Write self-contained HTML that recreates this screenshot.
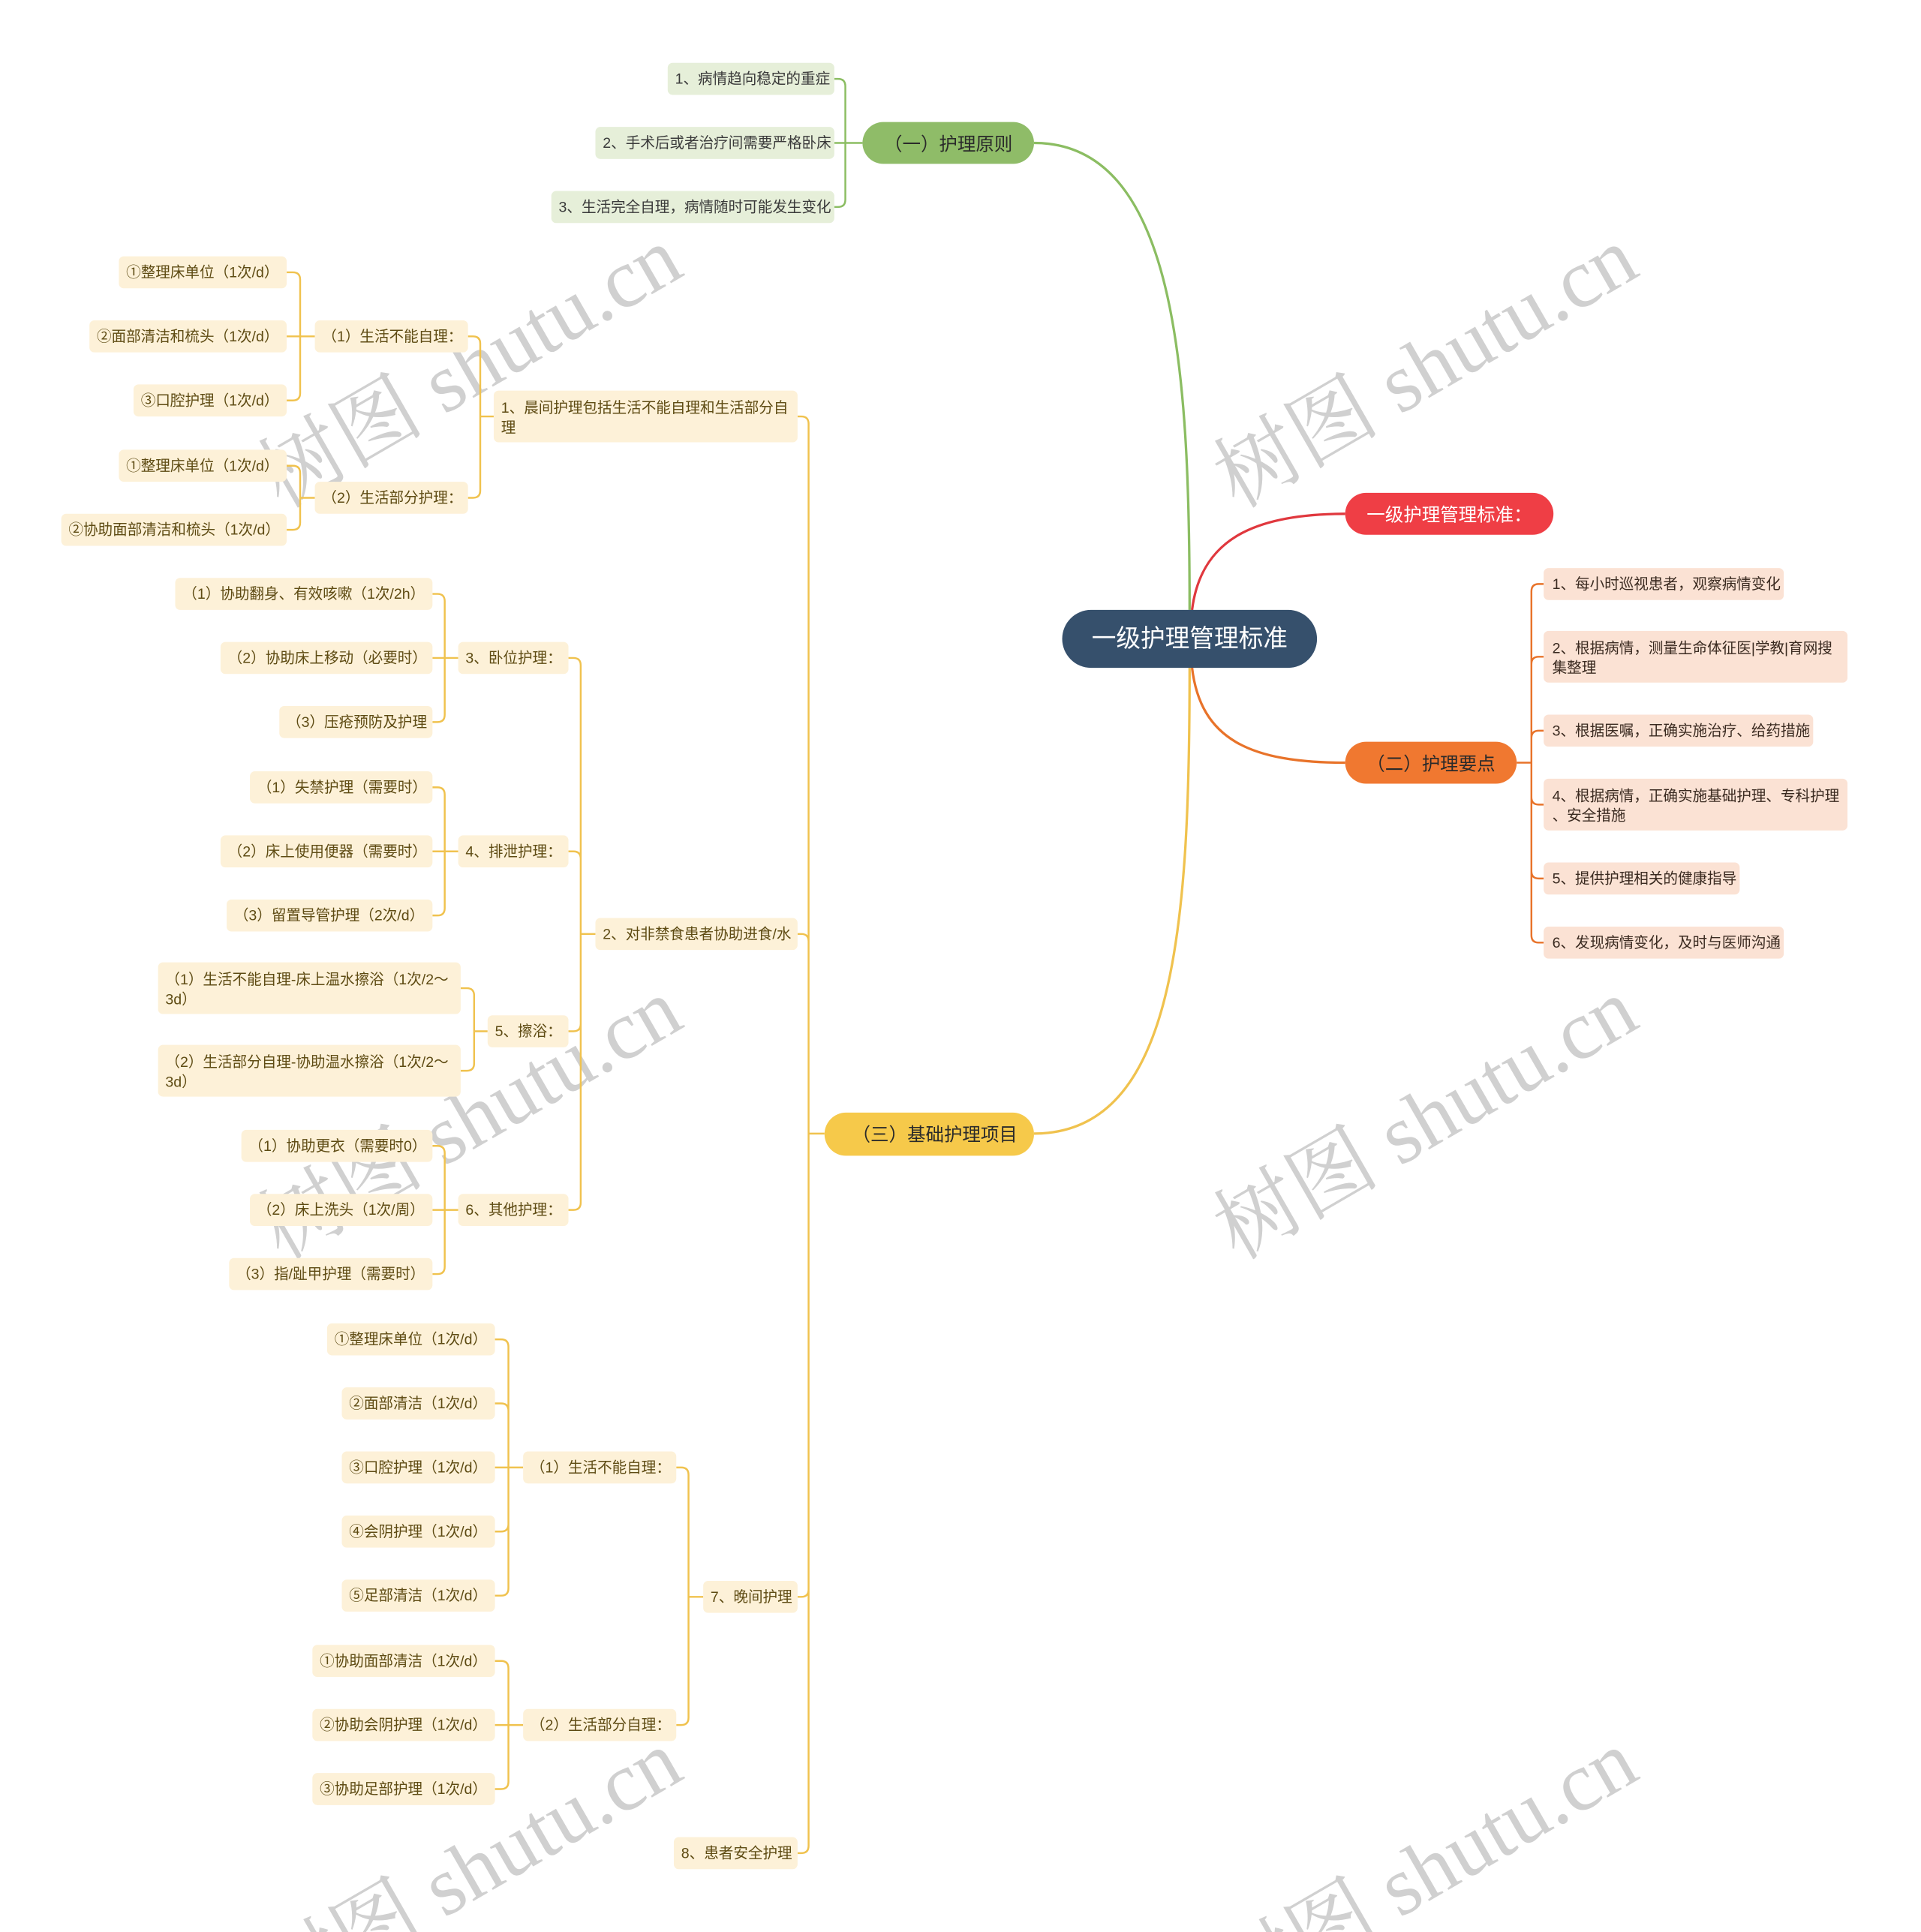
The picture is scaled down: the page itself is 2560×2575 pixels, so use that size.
<!DOCTYPE html>
<html><head><meta charset="utf-8"><style>
html,body{margin:0;padding:0;background:#fff;width:2560px;height:2575px;overflow:hidden;}
svg{display:block;overflow:hidden;}
text{font-family:"Liberation Sans","Noto Sans CJK SC",sans-serif;}
.g rect{fill:#e6efd9}
.g text{fill:#3a3a3a;font-size:12px}
.o rect{fill:#fbe2d4}
.o text{fill:#3a2a20;font-size:12px}
.y rect{fill:#fdf1d8}
.y text{fill:#5e4b13;font-size:12px}
.wm{fill:#d0d0d0;font-size:68px;font-family:"Liberation Serif","Noto Serif CJK SC",serif;}
</style></head><body>
<svg id="s" width="2560" height="2575" viewBox="0 0 1568 1568" preserveAspectRatio="none" xmlns="http://www.w3.org/2000/svg">
<g id="wms">
<text class="wm" transform="translate(395,318) rotate(-30)" text-anchor="middle">树图 shutu.cn</text>
<text class="wm" transform="translate(1175,318) rotate(-30)" text-anchor="middle">树图 shutu.cn</text>
<text class="wm" transform="translate(395,928) rotate(-30)" text-anchor="middle">树图 shutu.cn</text>
<text class="wm" transform="translate(1175,928) rotate(-30)" text-anchor="middle">树图 shutu.cn</text>
<text class="wm" transform="translate(395,1538) rotate(-30)" text-anchor="middle">树图 shutu.cn</text>
<text class="wm" transform="translate(1175,1538) rotate(-30)" text-anchor="middle">树图 shutu.cn</text>
</g>
<g id="lines" fill="none" stroke-width="1.5"></g>

<path d="M971,495 C971,300 960,116 844,116" stroke="#8bbd62" stroke-width="2" fill="none"/>
<path d="M973,495 C980,440 1020,417 1098,417" stroke="#e0383e" stroke-width="2" fill="none"/>
<path d="M973,542 C980,600 1020,619 1098,619" stroke="#e8732a" stroke-width="2" fill="none"/>
<path d="M971,542 C971,750 960,920 844,920" stroke="#f0c24e" stroke-width="2" fill="none"/>

<rect x="867" y="495" width="208" height="47" rx="23.5" fill="#36506c"/>
<text x="971" y="525" text-anchor="middle" fill="#fff" font-size="20">一级护理管理标准</text>

<rect x="704" y="99" width="140" height="34" rx="17" fill="#8fbc68"/>
<text x="774" y="122" text-anchor="middle" fill="#2a2a2a" font-size="15">（一）护理原则</text>
<g class="g">
<rect x="545" y="51" width="136" height="26" rx="4"/><text x="551" y="68">1、病情趋向稳定的重症</text>
<rect x="486" y="103" width="195" height="26" rx="4"/><text x="492" y="120">2、手术后或者治疗间需要严格卧床</text>
<rect x="450" y="155" width="231" height="26" rx="4"/><text x="456" y="172">3、生活完全自理，病情随时可能发生变化</text>
</g>

<rect x="1098" y="400" width="170" height="34" rx="17" fill="#ef3e45"/>
<text x="1183" y="423" text-anchor="middle" fill="#fff" font-size="15">一级护理管理标准：</text>

<rect x="1098" y="602" width="140" height="34" rx="17" fill="#f07830"/>
<text x="1168" y="625" text-anchor="middle" fill="#2a2a2a" font-size="15">（二）护理要点</text>
<g class="o">
<rect x="1260" y="461" width="196" height="26" rx="4"/><text x="1267" y="478">1、每小时巡视患者，观察病情变化</text>
<rect x="1260" y="512" width="248" height="42" rx="4"/><text x="1267" y="530">2、根据病情，测量生命体征医|学教|育网搜</text><text x="1267" y="546">集整理</text>
<rect x="1260" y="580" width="220" height="26" rx="4"/><text x="1267" y="597">3、根据医嘱，正确实施治疗、给药措施</text>
<rect x="1260" y="632" width="248" height="42" rx="4"/><text x="1267" y="650">4、根据病情，正确实施基础护理、专科护理</text><text x="1267" y="666">、安全措施</text>
<rect x="1260" y="700" width="160" height="26" rx="4"/><text x="1267" y="717">5、提供护理相关的健康指导</text>
<rect x="1260" y="752" width="196" height="26" rx="4"/><text x="1267" y="769">6、发现病情变化，及时与医师沟通</text>
</g>

<rect x="673" y="903" width="171" height="35" rx="17.5" fill="#f6c94a"/>
<text x="763" y="926" text-anchor="middle" fill="#2a2a2a" font-size="15">（三）基础护理项目</text>
<g class="y">
<rect x="403" y="317" width="248" height="42" rx="4"/><text x="409" y="335">1、晨间护理包括生活不能自理和生活部分自</text><text x="409" y="351">理</text>
<rect x="486" y="745" width="165" height="26" rx="4"/><text x="492" y="762">2、对非禁食患者协助进食/水</text>
<rect x="574" y="1283" width="77" height="26" rx="4"/><text x="580" y="1300">7、晚间护理</text>
<rect x="550" y="1491" width="101" height="26" rx="4"/><text x="556" y="1508">8、患者安全护理</text>

<rect x="257" y="260" width="125" height="26" rx="4"/><text x="263" y="277">（1）生活不能自理：</text>
<rect x="257" y="391" width="125" height="26" rx="4"/><text x="263" y="408">（2）生活部分护理：</text>
<rect x="97" y="208" width="137" height="26" rx="4"/><text x="103" y="225">①整理床单位（1次/d）</text>
<rect x="73" y="260" width="161" height="26" rx="4"/><text x="79" y="277">②面部清洁和梳头（1次/d）</text>
<rect x="109" y="312" width="125" height="26" rx="4"/><text x="115" y="329">③口腔护理（1次/d）</text>
<rect x="97" y="365" width="137" height="26" rx="4"/><text x="103" y="382">①整理床单位（1次/d）</text>
<rect x="50" y="417" width="184" height="26" rx="4"/><text x="56" y="434">②协助面部清洁和梳头（1次/d）</text>

<rect x="374" y="521" width="90" height="26" rx="4"/><text x="380" y="538">3、卧位护理：</text>
<rect x="374" y="678" width="90" height="26" rx="4"/><text x="380" y="695">4、排泄护理：</text>
<rect x="398" y="824" width="66" height="26" rx="4"/><text x="404" y="841">5、擦浴：</text>
<rect x="374" y="969" width="90" height="26" rx="4"/><text x="380" y="986">6、其他护理：</text>

<rect x="143" y="469" width="210" height="26" rx="4"/><text x="149" y="486">（1）协助翻身、有效咳嗽（1次/2h）</text>
<rect x="180" y="521" width="173" height="26" rx="4"/><text x="186" y="538">（2）协助床上移动（必要时）</text>
<rect x="228" y="573" width="125" height="26" rx="4"/><text x="234" y="590">（3）压疮预防及护理</text>
<rect x="204" y="626" width="149" height="26" rx="4"/><text x="210" y="643">（1）失禁护理（需要时）</text>
<rect x="180" y="678" width="173" height="26" rx="4"/><text x="186" y="695">（2）床上使用便器（需要时）</text>
<rect x="185" y="730" width="168" height="26" rx="4"/><text x="191" y="747">（3）留置导管护理（2次/d）</text>
<rect x="129" y="781" width="247" height="42" rx="4"/><text x="135" y="799">（1）生活不能自理-床上温水擦浴（1次/2～</text><text x="135" y="815">3d）</text>
<rect x="129" y="848" width="247" height="42" rx="4"/><text x="135" y="866">（2）生活部分自理-协助温水擦浴（1次/2～</text><text x="135" y="882">3d）</text>
<rect x="197" y="917" width="156" height="26" rx="4"/><text x="203" y="934">（1）协助更衣（需要时0）</text>
<rect x="204" y="969" width="149" height="26" rx="4"/><text x="210" y="986">（2）床上洗头（1次/周）</text>
<rect x="187" y="1021" width="166" height="26" rx="4"/><text x="193" y="1038">（3）指/趾甲护理（需要时）</text>

<rect x="427" y="1178" width="125" height="26" rx="4"/><text x="433" y="1195">（1）生活不能自理：</text>
<rect x="427" y="1387" width="125" height="26" rx="4"/><text x="433" y="1404">（2）生活部分自理：</text>
<rect x="267" y="1074" width="137" height="26" rx="4"/><text x="273" y="1091">①整理床单位（1次/d）</text>
<rect x="279" y="1126" width="125" height="26" rx="4"/><text x="285" y="1143">②面部清洁（1次/d）</text>
<rect x="279" y="1178" width="125" height="26" rx="4"/><text x="285" y="1195">③口腔护理（1次/d）</text>
<rect x="279" y="1230" width="125" height="26" rx="4"/><text x="285" y="1247">④会阴护理（1次/d）</text>
<rect x="279" y="1282" width="125" height="26" rx="4"/><text x="285" y="1299">⑤足部清洁（1次/d）</text>
<rect x="255" y="1335" width="149" height="26" rx="4"/><text x="261" y="1352">①协助面部清洁（1次/d）</text>
<rect x="255" y="1387" width="149" height="26" rx="4"/><text x="261" y="1404">②协助会阴护理（1次/d）</text>
<rect x="255" y="1439" width="149" height="26" rx="4"/><text x="261" y="1456">③协助足部护理（1次/d）</text>
</g>
</svg>
<script>
(function(){
var g=document.getElementById('lines'),NS='http://www.w3.org/2000/svg';
function br(px,py,bx,ch,col,dir){
  var d='M'+px+','+py+' H'+bx;
  ch.forEach(function(c){
    var cx=c[0],cy=c[1],r=Math.min(6,Math.abs(cy-py));
    if(Math.abs(cy-py)<1){d+=' M'+bx+','+py+' H'+cx;return;}
    var s=cy>py?1:-1;
    d+=' M'+bx+','+py+' V'+(cy-s*r)+' Q'+bx+','+cy+' '+(bx+dir*r)+','+cy+' H'+cx;
  });
  var p=document.createElementNS(NS,'path');p.setAttribute('d',d);p.setAttribute('stroke',col);g.appendChild(p);
}
var Y='#f0c24e';
br(704,116,690,[[681,64],[681,116],[681,168]],'#8bbd62',-1);
br(1238,619,1250,[[1260,474],[1260,533],[1260,593],[1260,653],[1260,713],[1260,765]],'#e8732a',1);
br(673,920,660,[[651,338],[651,758],[651,1296],[651,1504]],Y,-1);
br(403,338,392,[[382,273],[382,404]],Y,-1);
br(257,273,245,[[234,221],[234,273],[234,325]],Y,-1);
br(257,404,245,[[234,378],[234,430]],Y,-1);
br(486,758,474,[[464,534],[464,691],[464,837],[464,982]],Y,-1);
br(374,534,363,[[353,482],[353,534],[353,586]],Y,-1);
br(374,691,363,[[353,639],[353,691],[353,743]],Y,-1);
br(398,837,387,[[376,802],[376,869]],Y,-1);
br(374,982,363,[[353,930],[353,982],[353,1034]],Y,-1);
br(574,1296,562,[[552,1191],[552,1400]],Y,-1);
br(427,1191,415,[[404,1087],[404,1139],[404,1191],[404,1243],[404,1295]],Y,-1);
br(427,1400,415,[[404,1348],[404,1400],[404,1452]],Y,-1);
})();
</script>
</body></html>
